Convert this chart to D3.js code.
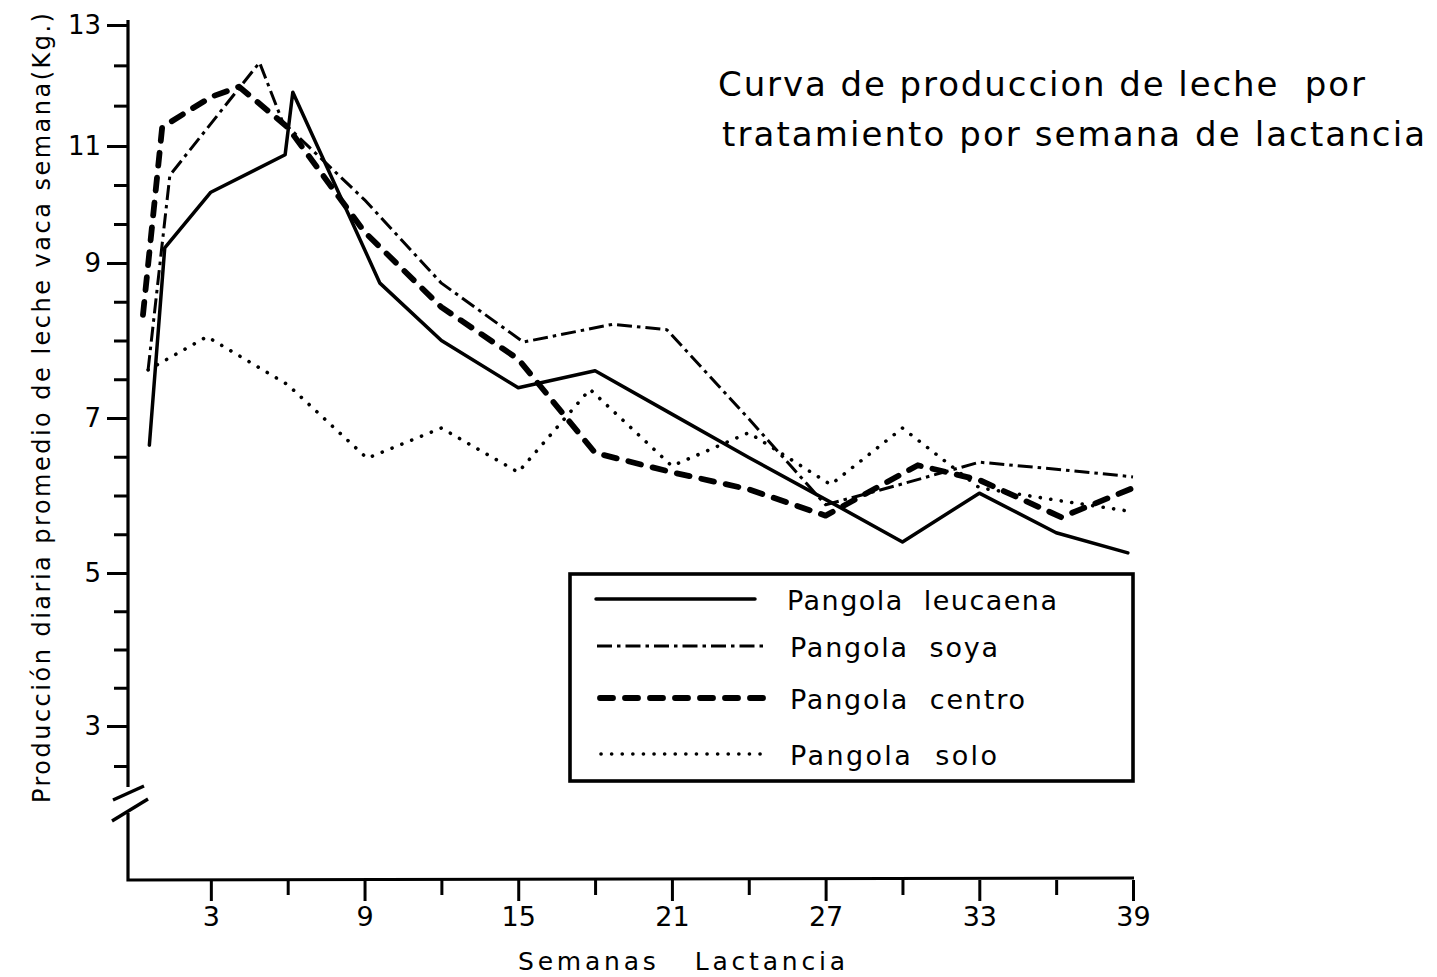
<!DOCTYPE html>
<html>
<head>
<meta charset="utf-8">
<script src="https://cdn.jsdelivr.net/npm/d3@7"></script>
<style>
  body { margin: 0; background: #fff; }
  text { font-family: "DejaVu Sans", sans-serif; fill: #000; }
</style>
</head>
<body>
<svg width="1437" height="977"></svg>
<script>
// weeks where each hand drawn curve has a vertex, and the milk yield there (kg)
const weeksLeucaena = [0.6, 1.2, 3, 5.9, 6.2, 9.6, 12, 15, 18, 21, 24, 27.6, 30, 33, 36, 38.8];
const milkLeucaena  = [6.65, 9.26, 10.21, 10.85, 11.89, 8.74, 8.0, 7.39, 7.61, 7.05, 6.49, 5.84, 5.40, 6.03, 5.52, 5.26];

const weeksSoya = [0.55, 1.4, 4.9, 5.8, 9, 12, 15.2, 18.7, 20.8, 24, 27, 30, 33, 36, 39];
const milkSoya  = [7.62, 10.5, 12.38, 11.4, 10.08, 8.74, 7.98, 8.21, 8.14, 6.99, 5.88, 6.15, 6.43, 6.34, 6.24];

const weeksCentro = [0.35, 1.1, 3, 4.1, 6, 9, 12, 15, 18, 21, 24, 27, 30.6, 33, 36.2, 39.1];
const milkCentro  = [8.33, 11.31, 11.81, 11.98, 11.31, 9.53, 8.43, 7.76, 6.55, 6.30, 6.08, 5.74, 6.39, 6.20, 5.72, 6.11];

const weeksSolo = [0.55, 2.85, 6, 9.1, 12, 15, 17.8, 21, 24, 27.2, 30, 33, 36, 39];
const milkSolo  = [7.62, 8.05, 7.43, 6.48, 6.87, 6.30, 7.37, 6.38, 6.81, 6.14, 6.87, 6.10, 5.94, 5.79];

const seriesNames = ["Pangola  leucaena", "Pangola  soya", "Pangola  centro", "Pangola  solo"];

const xMajor = [3, 9, 15, 21, 27, 33, 39];
const xMinor = [6, 12, 18, 24, 30, 36];
const yMajor = [3, 5, 7, 9, 11, 13];
const yMinor = [2.5, 3.5, 4, 4.5, 5.5, 6, 6.5, 7.5, 8, 8.5, 9.667, 10.333, 11.667, 12.333];

const series = [
  {name: seriesNames[0], pts: d3.zip(weeksLeucaena, milkLeucaena)},
  {name: seriesNames[1], pts: d3.zip(weeksSoya, milkSoya)},
  {name: seriesNames[2], pts: d3.zip(weeksCentro, milkCentro)},
  {name: seriesNames[3], pts: d3.zip(weeksSolo, milkSolo)}
];

// line looks, in the same order as the series
const styles = [
  {w: 3.5, dash: null, cap: "round"},
  {w: 3, dash: "15,5,3.5,5", cap: "butt"},
  {w: 5.8, dash: "13,12", cap: "round"},
  {w: 3.6, dash: "0.1,10.5", cap: "round"}
];

const svg = d3.select("svg");

// the printed y axis is not uniform: 13..9 and 9..3 use different steps
const x = d3.scaleLinear().domain([0, 39]).range([134, 1133]);
const y = d3.scaleLinear()
    .domain([2.5, 3, 5, 7, 9, 11, 13])
    .range([766, 726, 573, 418, 263, 146, 25]);

const axisX0 = 128, axisY0 = 880;

// y axis
const gy = svg.append("g").attr("transform", `translate(${axisX0},0)`);
gy.call(d3.axisLeft(y).tickValues(yMajor).tickSize(21).tickPadding(6).tickFormat(d3.format("d")));
gy.append("g").call(d3.axisLeft(y).tickValues(yMinor).tickSize(14).tickFormat(""));
gy.selectAll(".domain").remove();
gy.selectAll("line").attr("stroke", "#000").attr("stroke-width", 3);
gy.selectAll("text").style("font-size", "26px").attr("fill", "#000");

// x axis
const gx = svg.append("g").attr("transform", `translate(0,${axisY0})`);
gx.call(d3.axisBottom(x).tickValues(xMajor).tickSize(21).tickPadding(6).tickFormat(d3.format("d")));
gx.append("g").call(d3.axisBottom(x).tickValues(xMinor).tickSize(15).tickFormat(""));
gx.selectAll(".domain").remove();
gx.selectAll("line").attr("stroke", "#000").attr("stroke-width", 3);
gx.selectAll("text").style("font-size", "27px").attr("fill", "#000");

// axis lines with the break near the bottom of y
const axisPath = d3.path();
axisPath.moveTo(axisX0, 20);
axisPath.lineTo(axisX0, 787);
axisPath.moveTo(axisX0, 813);
axisPath.lineTo(axisX0, axisY0);
axisPath.lineTo(x(39) + 1, axisY0 - 2);
svg.append("path")
    .attr("d", axisPath.toString())
    .attr("fill", "none")
    .attr("stroke", "#000")
    .attr("stroke-width", 3.2);

svg.append("g").selectAll("line")
  .data([[113, 800, 144, 786], [112, 821, 148, 799]])
  .join("line")
    .attr("x1", d => d[0]).attr("y1", d => d[1])
    .attr("x2", d => d[2]).attr("y2", d => d[3])
    .attr("stroke", "#000")
    .attr("stroke-width", 3.4);

// curves
const line = d3.line()
    .x(d => x(d[0]))
    .y(d => y(d[1]));

svg.append("g").selectAll("path")
  .data(series)
  .join("path")
    .attr("fill", "none")
    .attr("stroke", "#000")
    .attr("stroke-linejoin", "round")
    .attr("stroke-width", (d, i) => styles[i].w)
    .attr("stroke-dasharray", (d, i) => styles[i].dash)
    .attr("stroke-linecap", (d, i) => styles[i].cap)
    .attr("d", d => line(d.pts));

// legend
const legend = svg.append("g");
legend.append("rect")
    .attr("x", 570).attr("y", 574)
    .attr("width", 563).attr("height", 207)
    .attr("fill", "none")
    .attr("stroke", "#000")
    .attr("stroke-width", 3.6);

const rowY = [599, 646, 698, 754];
const sampleX = [[596, 755], [597, 765], [600, 768], [601, 770]];
const labelW = [270, 208, 235, 207];

const row = legend.selectAll("g.row")
  .data(series)
  .join("g")
    .attr("class", "row");

row.append("line")
    .attr("x1", (d, i) => sampleX[i][0])
    .attr("x2", (d, i) => sampleX[i][1])
    .attr("y1", (d, i) => rowY[i])
    .attr("y2", (d, i) => rowY[i])
    .attr("stroke", "#000")
    .attr("stroke-width", (d, i) => styles[i].w)
    .attr("stroke-dasharray", (d, i) => styles[i].dash)
    .attr("stroke-linecap", (d, i) => styles[i].cap);

row.append("text")
    .attr("x", (d, i) => i === 0 ? 787 : 790)
    .attr("y", (d, i) => rowY[i] + 11)
    .attr("textLength", (d, i) => labelW[i])
    .attr("lengthAdjust", "spacing")
    .style("white-space", "pre")
    .style("font-size", "27px")
    .text(d => d.name);

// titles
svg.append("text")
    .attr("x", 718).attr("y", 96)
    .attr("textLength", 647)
    .attr("lengthAdjust", "spacing")
    .style("white-space", "pre")
    .style("font-size", "34px")
    .text("Curva de produccion de leche  por");

svg.append("text")
    .attr("x", 722).attr("y", 146)
    .attr("textLength", 703)
    .attr("lengthAdjust", "spacing")
    .style("font-size", "34px")
    .text("tratamiento por semana de lactancia");

svg.append("text")
    .attr("x", 518).attr("y", 970)
    .attr("textLength", 327)
    .attr("lengthAdjust", "spacing")
    .style("white-space", "pre")
    .style("font-size", "25px")
    .text("Semanas   Lactancia");

svg.append("text")
    .attr("transform", "translate(50,803) rotate(-90)")
    .attr("textLength", 790)
    .attr("lengthAdjust", "spacing")
    .style("font-size", "24px")
    .text("Producción diaria promedio de leche vaca semana(Kg.)");
</script>
</body>
</html>
